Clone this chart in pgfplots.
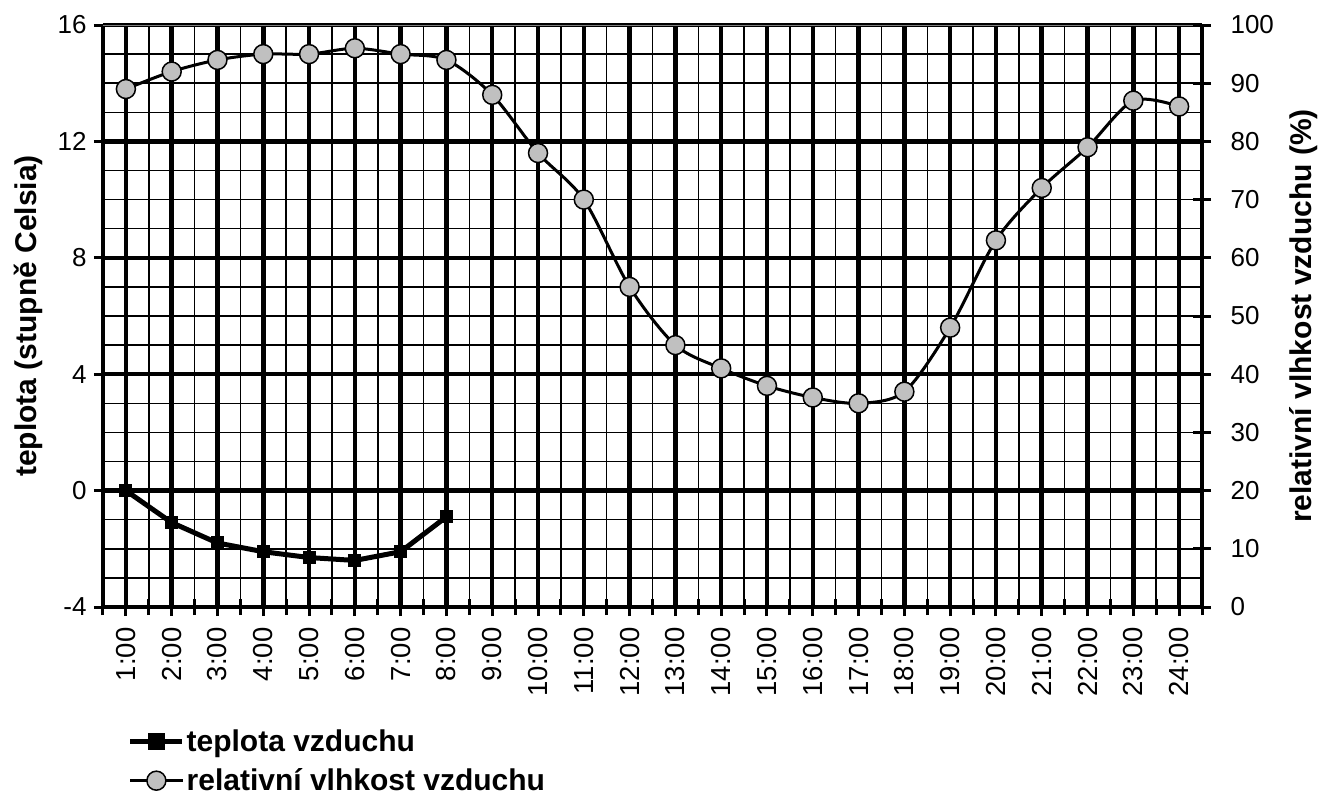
\documentclass[border=0pt]{standalone}
\usepackage{fontspec}
\setmainfont{Liberation Sans}
\usepackage{pgfplots}
\usepackage{pgfplotstable}
\pgfplotsset{compat=1.18}
\definecolor{mgray}{HTML}{C0C0C0}

\pgfplotstableread{
x t
1 0
2 -1.1
3 -1.8
4 -2.1
5 -2.3
6 -2.4
7 -2.1
8 -0.9
}\temp

\pgfplotstableread{
x h
1 89
2 92
3 94
4 95
5 95
6 96
7 95
8 94
9 88
10 78
11 70
12 55
13 45
14 41
15 38
16 36
17 35
18 37
19 48
20 63
21 72
22 79
23 87
24 86
}\hum

\begin{document}
\begin{tikzpicture}
\useasboundingbox (-103pt,-189pt) rectangle (1216pt,607pt);
\pgfplotsset{
  every axis/.append style={
    scale only axis, width=1099pt, height=582pt,
    xmin=0.5, xmax=24.5,
    tick align=center,
    axis line style={line width=4.5pt},
    tick style={black, line width=3pt},
    major tick length=18pt, minor tick length=16pt,
    tick label style={font=\fontsize{26}{31}\selectfont},
    label style={font=\fontsize{30}{36}\selectfont\bfseries},
    /pgf/number format/assume math mode=true,
  },
  legend image code/.code={\draw[mark repeat=2,mark phase=2,#1] plot coordinates {(0pt,0pt) (26pt,0pt) (52pt,0pt)};},
}
\begin{axis}[
  ymin=-4, ymax=16,
  axis x line*=bottom, axis y line*=left,
  xtick={1,...,24},
  xticklabels={1:00,2:00,3:00,4:00,5:00,6:00,7:00,8:00,9:00,10:00,11:00,12:00,13:00,14:00,15:00,16:00,17:00,18:00,19:00,20:00,21:00,22:00,23:00,24:00},
  minor xtick={0.5,1.5,...,24.5},
  xticklabel style={yshift=-8pt, rotate=90, anchor=east, font=\fontsize{27.5}{32}\selectfont},
  ytick={-4,0,4,8,12,16},
  yticklabel style={xshift=-4pt},
  minor ytick={-3,-2,...,15},
  minor y tick style={draw=none},
  grid=both,
  major grid style={black, line width=4.5pt},
  minor grid style={black, line width=1.5pt},
  ylabel={teplota (stupně Celsia)},
  ylabel style={at={(axis description cs:-0.068,0.5)}, anchor=center},
]
\draw[gray, line width=2pt] (rel axis cs:0,1) -- (rel axis cs:1,1);
\addplot[black, line width=5pt, mark=square*, mark size=6pt, mark options={line width=1pt}] table[x=x,y=t] {\temp};
\end{axis}
\begin{axis}[
  ymin=0, ymax=100,
  axis x line=none, axis y line*=right,
  ytick={0,10,...,100},
  yticklabel={\hspace*{16pt}\pgfmathprintnumber{\tick}},
  yticklabel style={anchor=west},
  ylabel={relativní vlhkost vzduchu (\%)},
  ylabel style={at={(axis description cs:1.092,0.5)}, anchor=center, rotate=0},
  legend style={at={(axis description cs:0.0227,-0.207)}, anchor=north west, draw=none, fill=none, inner sep=0pt, font=\fontsize{30}{36}\selectfont\bfseries, cells={anchor=west}, row sep=12pt},
]
\addlegendimage{black, line width=4.5pt, mark=square*, mark size=6pt}
\addlegendentry{teplota vzduchu}
\addplot[black, line width=3pt, smooth, mark=*, mark size=9.5pt, mark options={fill=mgray, line width=1.5pt}] table[x=x,y=h] {\hum};
\addlegendentry{relativní vlhkost vzduchu}
\end{axis}
\end{tikzpicture}
\end{document}
